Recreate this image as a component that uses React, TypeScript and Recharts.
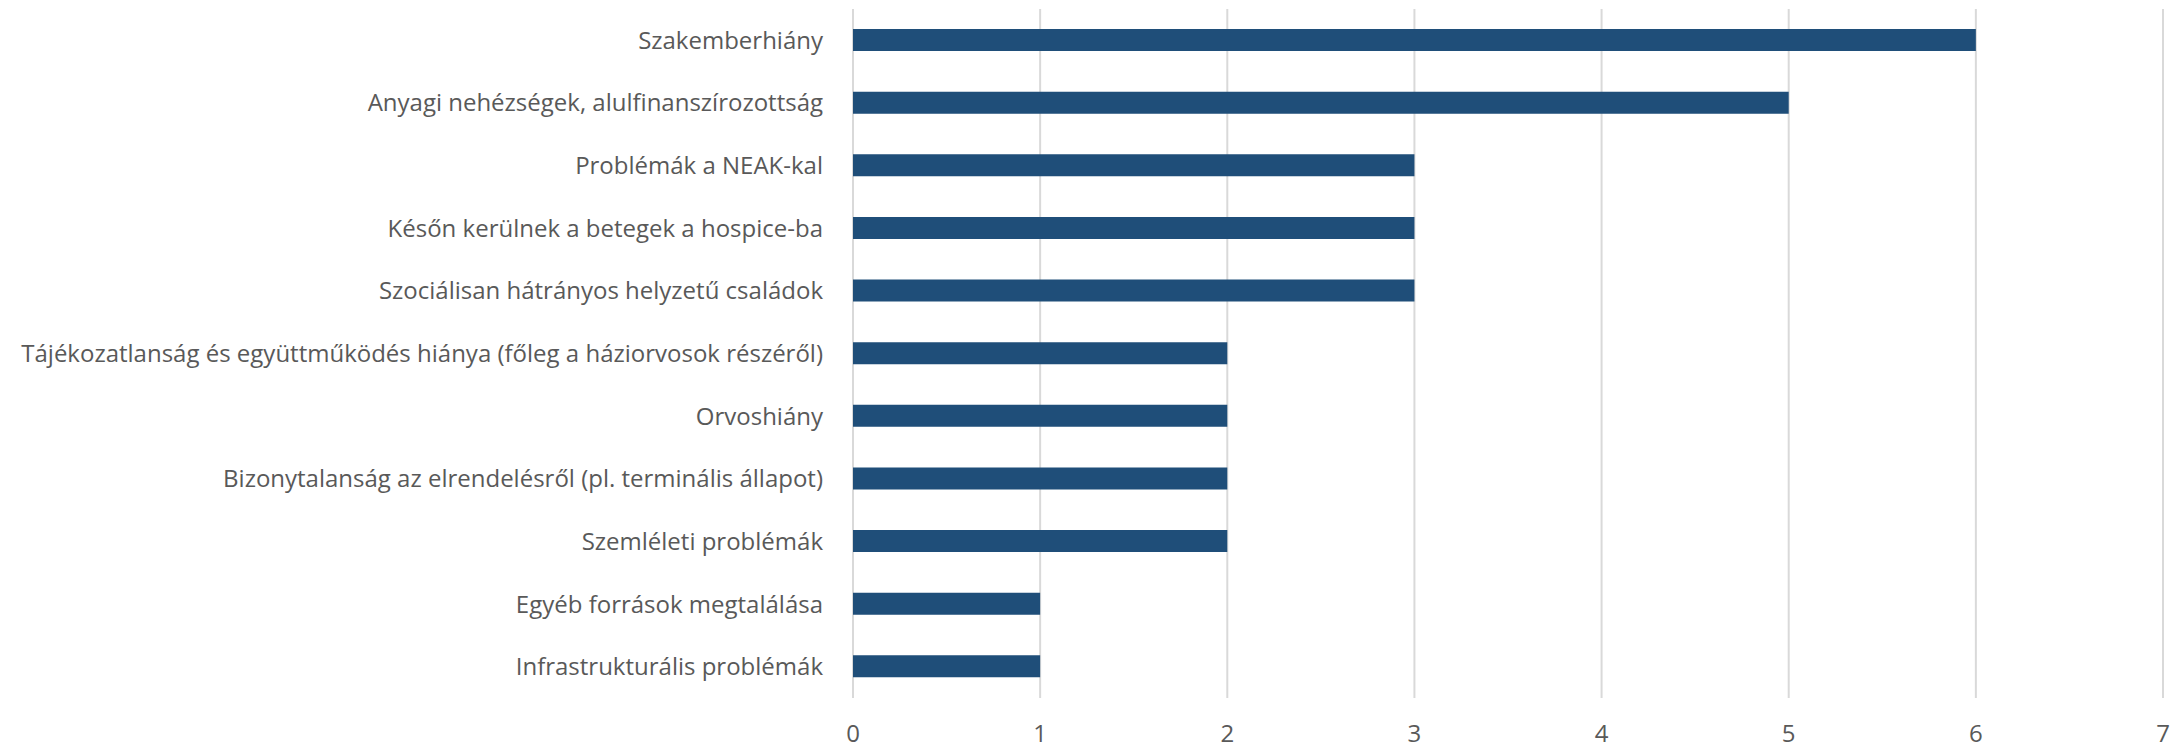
import React from "react";
import { BarChart, Bar, XAxis, YAxis, CartesianGrid } from "recharts";

const categories = [
  "Szakemberhiány",
  "Anyagi nehézségek, alulfinanszírozottság",
  "Problémák a NEAK-kal",
  "Későn kerülnek a betegek a hospice-ba",
  "Szociálisan hátrányos helyzetű családok",
  "Tájékozatlanság és együttműködés hiánya (főleg a háziorvosok részéről)",
  "Orvoshiány",
  "Bizonytalanság az elrendelésről (pl. terminális állapot)",
  "Szemléleti problémák",
  "Egyéb források megtalálása",
  "Infrastrukturális problémák",
];
const values = [6, 5, 3, 3, 3, 2, 2, 2, 2, 1, 1];
const xTicks = [0, 1, 2, 3, 4, 5, 6, 7];

const data = categories.map((name, i) => ({ name, value: values[i] }));

const FONT = "'Open Sans', 'Noto Sans', sans-serif";

export default function App() {
  return (
    <div style={{ margin: "-8px 0 0 -8px", width: 2179, height: 748, background: "#fff" }}>
      <BarChart
        width={2179}
        height={748}
        data={data}
        layout="vertical"
        margin={{ top: 9, right: 16, bottom: 0, left: 0 }}
        barCategoryGap={0}
      >
        <CartesianGrid horizontal={false} stroke="#d9d9d9" strokeWidth={2} />
        <XAxis
          type="number"
          domain={[0, 7]}
          ticks={xTicks}
          axisLine={false}
          tickLine={false}
          tickSize={0}
          tickMargin={27}
          height={50}
          interval={0}
          tick={{ fill: "#595959", fontSize: 24, fontFamily: FONT }}
        />
        <YAxis
          type="category"
          dataKey="name"
          width={853}
          axisLine={false}
          tickLine={false}
          tickSize={0}
          tickMargin={30}
          interval={0}
          tick={{ fill: "#595959", fontSize: 24, fontFamily: FONT }}
        />
        <Bar dataKey="value" fill="#1F4E79" barSize={22} isAnimationActive={false} />
      </BarChart>
    </div>
  );
}
